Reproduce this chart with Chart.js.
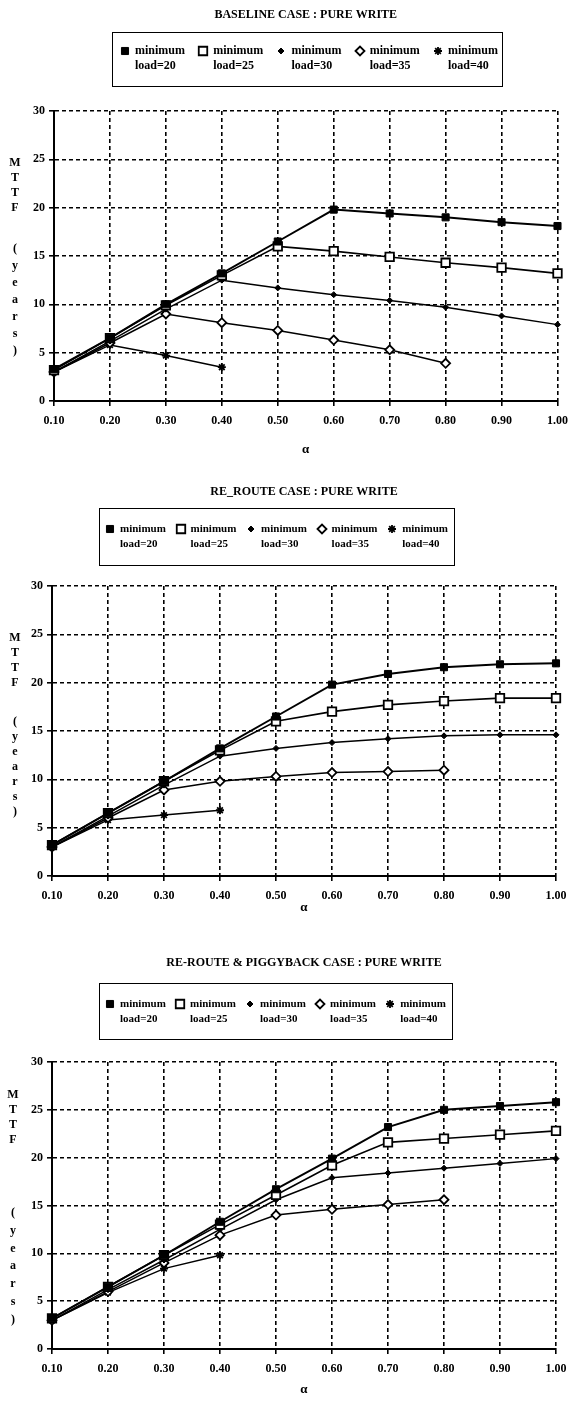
<!DOCTYPE html>
<html>
<head>
<meta charset="utf-8">
<script src="https://cdn.jsdelivr.net/npm/chart.js@4.4.1/dist/chart.umd.min.js"></script>
<style>
  html, body { margin: 0; padding: 0; background: #fff; }
  body { position: relative; width: 576px; height: 1406px; overflow: hidden; }
  .panel { position: absolute; left: 0; width: 576px; }
  .panel canvas.plot { position: absolute; left: 0; top: 0; }
  .legend {
    position: absolute; box-sizing: border-box; border: 1.5px solid #000;
    display: flex; justify-content: space-between; align-items: flex-start;
    font-family: 'Liberation Serif', 'Times New Roman', serif; font-weight: bold; color: #000;
  }
  .legend .item { display: flex; align-items: flex-start; }
  .legend .item canvas { flex: none; margin-right: 3px; }
</style>
</head>
<body>
<div class="panel" id="panel1"><canvas class="plot" id="chart1"></canvas><div class="legend" id="legend1"></div></div>
<div class="panel" id="panel2"><canvas class="plot" id="chart2"></canvas><div class="legend" id="legend2"></div></div>
<div class="panel" id="panel3"><canvas class="plot" id="chart3"></canvas><div class="legend" id="legend3"></div></div>
<script>
/* ------------------------------------------------ */
// data

const ALPHA_LABELS = ['0.10', '0.20', '0.30', '0.40', '0.50', '0.60', '0.70', '0.80', '0.90', '1.00'];
const LOAD_LABELS = ['load=20', 'load=25', 'load=30', 'load=35', 'load=40'];
const LEGEND_PREFIX = 'minimum';
const Y_TITLE_TOP = 'MTTF';
const Y_TITLE_BOTTOM = '(years)';
const X_TITLE = 'α';
const Y_MIN = 0;
const Y_MAX = 30;
const Y_STEP = 5;

const BASELINE_20 = [3.3, 6.5, 10.0, 13.2, 16.5, 19.8, 19.4, 19.0, 18.5, 18.1];
const BASELINE_25 = [3.2, 6.5, 9.9, 13.0, 16.0, 15.5, 14.9, 14.3, 13.8, 13.2];
const BASELINE_30 = [3.0, 6.2, 9.5, 12.5, 11.7, 11.0, 10.4, 9.7, 8.8, 7.9];
const BASELINE_35 = [3.0, 6.0, 9.0, 8.1, 7.3, 6.3, 5.3, 3.9];
const BASELINE_40 = [3.0, 5.8, 4.7, 3.5];

const REROUTE_20 = [3.2, 6.5, 9.8, 13.2, 16.5, 19.8, 20.9, 21.6, 21.9, 22.0];
const REROUTE_25 = [3.2, 6.5, 9.8, 13.0, 16.0, 17.0, 17.7, 18.1, 18.4, 18.4];
const REROUTE_30 = [3.0, 6.2, 9.4, 12.4, 13.2, 13.8, 14.2, 14.5, 14.6, 14.6];
const REROUTE_35 = [3.0, 6.0, 8.9, 9.8, 10.3, 10.7, 10.8, 10.95];
const REROUTE_40 = [3.0, 5.8, 6.3, 6.8];

const PIGGY_20 = [3.2, 6.5, 9.8, 13.3, 16.7, 19.9, 23.2, 25.0, 25.4, 25.8];
const PIGGY_25 = [3.2, 6.5, 9.8, 13.0, 16.1, 19.2, 21.6, 22.0, 22.4, 22.8];
const PIGGY_30 = [3.0, 6.2, 9.3, 12.5, 15.6, 17.9, 18.4, 18.9, 19.4, 19.9];
const PIGGY_35 = [3.0, 6.0, 9.0, 11.9, 14.0, 14.6, 15.1, 15.6];
const PIGGY_40 = [3.0, 5.9, 8.4, 9.8];

/* ------------------------------------------------ */

const FONT = "'Liberation Serif', 'Times New Roman', serif";

let seriesStyles = [
  // filled square
  { point: 'rect', radius: 5, fill: '#000', line: 2, border: 1 },
  // open square
  { point: 'rect', radius: 6, fill: '#fff', line: 1.6, border: 1.8 },
  // small filled diamond
  { point: 'rectRot', radius: 3, fill: '#000', line: 1.5, border: 1 },
  // open diamond
  { point: 'rectRot', radius: 4.5, fill: '#fff', line: 1.5, border: 1.8 },
  // star
  { point: 'star', radius: 4, fill: '#000', line: 1.5, border: 1.8 },
];

let panels = [
  {
    id: 1, title: 'BASELINE CASE : PURE WRITE',
    series: [BASELINE_20, BASELINE_25, BASELINE_30, BASELINE_35, BASELINE_40],
    top: 0, height: 465,
    area: { top: 111, bottom: 401, left: 54, right: 558 },
    titleY: 15, alphaY: 450,
    legend: { left: 112, top: 32, width: 391, height: 55, font: 12, line: 15, padTop: 10, padLeft: 5, padRight: 4 },
    yTitle: { x: 15, top: 52, step: 15, parenTop: 138, parenStep: 17 },
  },
  {
    id: 2, title: 'RE_ROUTE CASE : PURE WRITE',
    series: [REROUTE_20, REROUTE_25, REROUTE_30, REROUTE_35, REROUTE_40],
    top: 465, height: 465,
    area: { top: 121, bottom: 411, left: 52, right: 556 },
    titleY: 27, alphaY: 443,
    legend: { left: 99, top: 43, width: 356, height: 58, font: 11, line: 15, padTop: 12, padLeft: 3, padRight: 6 },
    yTitle: { x: 15, top: 52, step: 15, parenTop: 136, parenStep: 15 },
  },
  {
    id: 3, title: 'RE-ROUTE & PIGGYBACK CASE : PURE WRITE',
    series: [PIGGY_20, PIGGY_25, PIGGY_30, PIGGY_35, PIGGY_40],
    top: 930, height: 476,
    area: { top: 132, bottom: 419, left: 52, right: 556 },
    titleY: 33, alphaY: 460,
    legend: { left: 99, top: 53, width: 354, height: 57, font: 11, line: 15, padTop: 12, padLeft: 3, padRight: 6 },
    yTitle: { x: 13, top: 33, step: 15, parenTop: 151, parenStep: 17.8 },
  },
];

/* ------------------------------------------------ */

// vertical, letter-stacked y axis title
const stackedTitle = {
  id: 'stackedTitle',
  afterDraw(chart, args, opts) {
    let ctx = chart.ctx;
    let top = chart.chartArea.top;
    ctx.save();
    ctx.font = 'bold 12px ' + FONT;
    ctx.fillStyle = '#000';
    ctx.textAlign = 'center';
    ctx.textBaseline = 'middle';
    Y_TITLE_TOP.split('').forEach((ch, i) => {
      ctx.fillText(ch, opts.x, top + opts.top + i * opts.step);
    });
    Y_TITLE_BOTTOM.split('').forEach((ch, i) => {
      ctx.fillText(ch, opts.x, top + opts.parenTop + i * opts.parenStep);
    });
    ctx.restore();
  }
};

/* ------------------------------------------------ */

function makeChart(p) {

  let panel = document.getElementById('panel' + p.id);
  panel.style.top = p.top + 'px';
  panel.style.height = p.height + 'px';

  let canvas = document.getElementById('chart' + p.id);
  canvas.width = 576;
  canvas.height = p.height;

  let datasets = p.series.map((values, i) => {
    let st = seriesStyles[i];
    return {
      label: LOAD_LABELS[i],
      data: values,
      borderColor: '#000',
      backgroundColor: st.fill,
      borderWidth: st.line,
      pointStyle: st.point,
      pointRadius: st.radius,
      pointBackgroundColor: st.fill,
      pointBorderColor: '#000',
      pointBorderWidth: st.border,
      tension: 0,
      fill: false,
    };
  });

  let grid = { color: '#000', lineWidth: 1.6, tickLength: 5, tickColor: '#000', tickWidth: 1.6 };
  let border = { display: true, color: '#000', width: 2, dash: [4, 3] };
  let tickFont = { family: FONT, size: 12, weight: 'bold' };
  let titleLH = 12 * 1.2;
  let alphaLH = 13 * 1.2;

  let config = {
    type: 'line',
    data: { labels: ALPHA_LABELS, datasets: datasets },
    options: {
      responsive: false,
      animation: false,
      devicePixelRatio: 1,
      events: [],
      layout: { padding: { top: 0, left: 0, right: 576 - p.area.right, bottom: 0 } },
      plugins: {
        legend: { display: false },
        tooltip: { enabled: false },
        title: {
          display: true,
          text: p.title,
          fullSize: false,
          color: '#000',
          font: { family: FONT, size: 12, weight: 'bold', lineHeight: 1.2 },
          padding: { top: p.titleY - titleLH / 2, bottom: p.area.top - p.titleY - titleLH / 2 },
        },
        stackedTitle: p.yTitle,
      },
      scales: {
        x: {
          type: 'category',
          offset: false,
          grid: grid,
          border: border,
          ticks: { color: '#000', font: tickFont, padding: 8, maxRotation: 0, autoSkip: false },
          title: {
            display: true, text: X_TITLE, color: '#000',
            font: { family: FONT, size: 13, weight: 'bold', lineHeight: 1.2 },
            padding: { top: 0, bottom: p.height - p.alphaY - alphaLH / 2 },
          },
          afterFit: (s) => { s.height = p.height - p.area.bottom; },
        },
        y: {
          min: Y_MIN,
          max: Y_MAX,
          grid: grid,
          border: border,
          ticks: { stepSize: Y_STEP, color: '#000', font: tickFont, padding: 4 },
          afterFit: (s) => { s.width = p.area.left; },
        },
      },
    },
    plugins: [stackedTitle],
  };

  let chart = new Chart(canvas.getContext('2d'), config);
  buildLegend(chart, p);
  return chart;
}

/* ------------------------------------------------ */

// boxed html legend, two text lines per entry, markers drawn with the chart's own point helper
function buildLegend(chart, p) {
  let box = document.getElementById('legend' + p.id);
  let lg = p.legend;
  box.style.left = lg.left + 'px';
  box.style.top = lg.top + 'px';
  box.style.width = lg.width + 'px';
  box.style.height = lg.height + 'px';
  box.style.fontSize = lg.font + 'px';
  box.style.lineHeight = lg.line + 'px';
  box.style.padding = lg.padTop + 'px ' + lg.padRight + 'px 0 ' + lg.padLeft + 'px';

  chart.data.datasets.forEach((ds) => {
    let item = document.createElement('div');
    item.className = 'item';

    let mk = document.createElement('canvas');
    mk.width = 14;
    mk.height = 14;
    mk.style.marginTop = ((lg.line - 14) / 2) + 'px';
    let mctx = mk.getContext('2d');
    mctx.fillStyle = ds.pointBackgroundColor;
    mctx.strokeStyle = ds.pointBorderColor;
    mctx.lineWidth = ds.pointBorderWidth;
    Chart.helpers.drawPoint(mctx, {
      pointStyle: ds.pointStyle,
      radius: ds.pointRadius,
      borderWidth: ds.pointBorderWidth,
      rotation: 0,
    }, 7, 7);

    let txt = document.createElement('div');
    txt.innerHTML = LEGEND_PREFIX + '<br>' + ds.label;

    item.appendChild(mk);
    item.appendChild(txt);
    box.appendChild(item);
  });
}

/* ------------------------------------------------ */

panels.forEach((p) => makeChart(p));
</script>
</body>
</html>
